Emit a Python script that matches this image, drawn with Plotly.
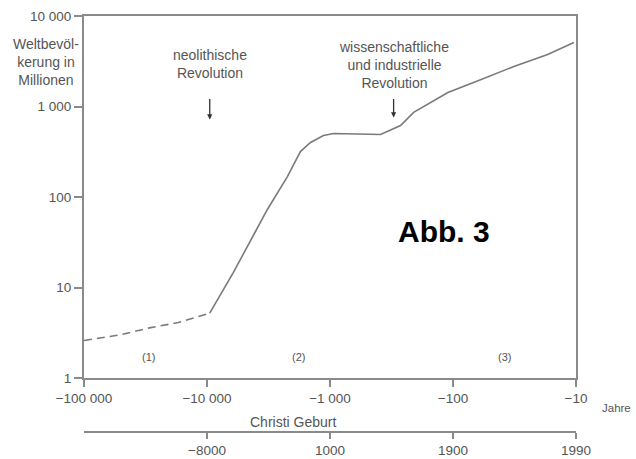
import math
import plotly.graph_objects as go

# --- data (years before present, world population in millions) ---
years_dashed = [100000, 51000, 28700, 17100, 9500]
pop_dashed = [2.6, 3.0, 3.6, 4.1, 5.2]

years_solid = [9500, 6100, 3230, 2220, 1740, 1440, 1130, 936, 388, 310, 267, 209, 110, 59, 32, 17, 10.4]
pop_solid = [5.2, 14.7, 72.8, 168, 318, 400, 478, 503, 490, 557, 617, 860, 1430, 1990, 2770, 3760, 5100]

x_tickvals = [100000, 10000, 1000, 100, 10]
x_ticktext = ["\u2212100 000", "\u221210 000", "\u22121 000", "\u2212100", "\u221210"]
y_tickvals = [1, 10, 100, 1000, 10000]
y_ticktext = ["1", "10", "100", "1 000", "10 000"]
cal_tickvals = [10000, 1000, 100, 10]
cal_ticktext = ["\u22128000", "1000", "1900", "1990"]
christ_birth_years_ago = 2000

neolithic_years_ago = 9500
industrial_years_ago = 304
phase_labels = ["(1)", "(2)", "(3)"]
phase_years_ago = [30100, 1810, 37.8]

FONT = "Liberation Sans, Arial, sans-serif"
GREY = "#555555"
LINE = "#7a7a7a"

fig = go.Figure()
fig.add_trace(go.Scatter(x=years_dashed, y=pop_dashed, mode="lines",
                         line=dict(color=LINE, width=1.6, dash="8px,5px"),
                         showlegend=False, hoverinfo="skip"))
fig.add_trace(go.Scatter(x=years_solid, y=pop_solid, mode="lines",
                         line=dict(color=LINE, width=1.6),
                         showlegend=False, hoverinfo="skip"))
# invisible trace to carry the calendar axis
fig.add_trace(go.Scatter(x=[100000, 10], y=[1, 1], xaxis="x2", yaxis="y", mode="lines",
                         line=dict(width=0), opacity=0, showlegend=False, hoverinfo="skip"))

ydom0 = (432 - 378) / 416

fig.update_layout(
    width=636, height=459,
    margin=dict(l=84, r=60, t=16, b=27, autoexpand=False),
    paper_bgcolor="white", plot_bgcolor="white",
    font=dict(family=FONT, size=14, color=GREY),
    xaxis=dict(type="log", range=[5, 1], tickvals=x_tickvals, ticktext=x_ticktext,
               showgrid=False, zeroline=False, showline=True, mirror=True,
               linecolor="#8a8a8a", linewidth=2, ticks="outside", ticklen=7,
               tickcolor="#8a8a8a", tickwidth=1.5, anchor="y", automargin=False,
               tickfont=dict(size=13.5, color=GREY)),
    xaxis2=dict(type="log", range=[5, 1], overlaying="x", anchor="free", position=0,
                side="bottom", tickvals=cal_tickvals, ticktext=cal_ticktext,
                showgrid=False, zeroline=False, showline=True, automargin=False,
                linecolor="#8a8a8a", linewidth=2, ticks="outside", ticklen=6,
                tickcolor="#8a8a8a", tickwidth=1.5,
                tickfont=dict(size=13.5, color=GREY)),
    yaxis=dict(type="log", range=[0, 4], domain=[ydom0, 1], tickvals=y_tickvals,
               ticktext=y_ticktext, showgrid=False, zeroline=False, showline=True,
               mirror=True, linecolor="#8a8a8a", linewidth=2, ticks="outside",
               ticklen=8, tickcolor="#8a8a8a", tickwidth=1.5, automargin=False,
               tickfont=dict(size=13.5, color=GREY)),
)

# Christi Geburt marker on calendar axis
cx = math.log10(christ_birth_years_ago)
fig.add_shape(type="line", xref="x", yref="paper", x0=cx, x1=cx, y0=-0.012, y1=0.012,
              line=dict(color="black", width=2.5))

ann = []
ann.append(dict(text="Weltbevöl-<br>kerung in<br>Millionen", xref="paper", yref="paper",
                x=(46 - 84) / 492, y=(432 - 62) / 416, showarrow=False,
                xanchor="center", yanchor="middle", font=dict(size=14, color=GREY)))
ann.append(dict(text="neolithische<br>Revolution", xref="x", yref="y",
                x=math.log10(neolithic_years_ago), y=(378.5 - 64) / 90.5, showarrow=False,
                xanchor="center", yanchor="middle", font=dict(size=14, color=GREY)))
ann.append(dict(text="", xref="x", yref="y", x=math.log10(neolithic_years_ago),
                y=(378.5 - 120) / 90.5, showarrow=True, ax=0, ay=-22,
                arrowhead=2, arrowsize=0.8, arrowwidth=1.3, arrowcolor="#333333"))
ann.append(dict(text="wissenschaftliche<br>und industrielle<br>Revolution", xref="x", yref="y",
                x=math.log10(industrial_years_ago), y=(378.5 - 65) / 90.5, showarrow=False,
                xanchor="center", yanchor="middle", font=dict(size=14, color=GREY)))
ann.append(dict(text="", xref="x", yref="y", x=math.log10(industrial_years_ago),
                y=(378.5 - 118) / 90.5, showarrow=True, ax=0, ay=-20,
                arrowhead=2, arrowsize=0.8, arrowwidth=1.3, arrowcolor="#333333"))
for lab, ya in zip(phase_labels, phase_years_ago):
    ann.append(dict(text=lab, xref="x", yref="y", x=math.log10(ya), y=(378.5 - 357) / 90.5,
                    showarrow=False, font=dict(size=11, color=GREY)))
ann.append(dict(text="<b>Abb. 3</b>", xref="paper", yref="paper",
                x=(444 - 84) / 492, y=(432 - 231) / 416, showarrow=False,
                xanchor="center", yanchor="middle",
                font=dict(size=30, color="black", family="Liberation Sans, Arial")))
ann.append(dict(text="Jahre", xref="paper", yref="paper", x=(600 - 84) / 492,
                y=(432 - 408) / 416, showarrow=False, xanchor="left", yanchor="middle",
                font=dict(size=11.5, color=GREY)))
ann.append(dict(text="Christi Geburt", xref="x", yref="paper", x=cx, y=(432 - 422) / 416,
                showarrow=False, xanchor="center", yanchor="middle",
                font=dict(size=14, color=GREY)))
fig.update_layout(annotations=ann)

fig.write_html("out.html", config={"displayModeBar": False},
               post_script="document.body.style.margin='0';document.body.style.overflow='hidden';")
